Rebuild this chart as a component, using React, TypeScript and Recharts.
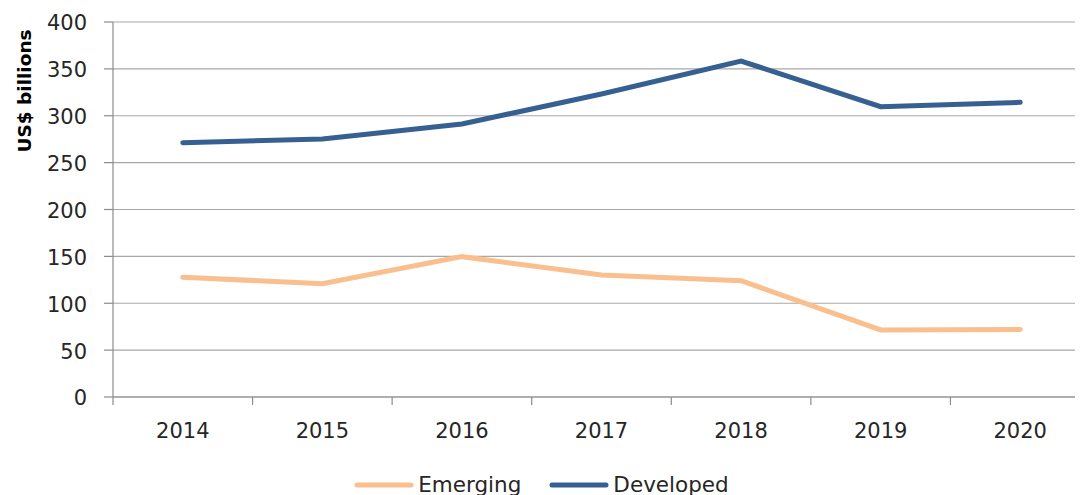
import React from 'react';
import { LineChart, Line, XAxis, YAxis, CartesianGrid, Legend } from 'recharts';

const years = ['2014', '2015', '2016', '2017', '2018', '2019', '2020'];
const emerging = [127.7, 120.9, 149.7, 130.1, 124.1, 71.5, 72];
const developed = [271.3, 275.2, 291.2, 323.2, 358.4, 309.7, 314.3];
const yTicks = [0, 50, 100, 150, 200, 250, 300, 350, 400];
const seriesOrder = ['Emerging', 'Developed'];

const data = years.map((y, i) => ({ year: y, Emerging: emerging[i], Developed: developed[i] }));

const CHART_W = 1100;
const CHART_H = 500;
const Y_W = 113;
const X_H = 30;
const LEGEND_H = 24;
const M = { top: 22, right: 10, left: 0, bottom: 103 - X_H - LEGEND_H };
const PLOT_W = CHART_W - Y_W - M.right;
const BAND = PLOT_W / years.length;
const FONT = '"DejaVu Sans", sans-serif';
const AXIS_COLOR = '#8c8c8c';
const GRID_COLOR = '#a8a8a8';
const TEXT_COLOR = '#262626';
const ORANGE = '#fabf8f';
const BLUE = '#376092';

const XTick = (props: any) => {
  const { x, y, payload } = props;
  return (
    <g>
      <line x1={x - BAND / 2} x2={x - BAND / 2} y1={y} y2={y + 8} stroke={AXIS_COLOR} strokeWidth={1.2} />
      <text x={x} y={y + 41} textAnchor="middle" fontFamily={FONT} fontSize={21} fill={TEXT_COLOR}>
        {payload.value}
      </text>
    </g>
  );
};

const YLabel = (props: any) => {
  const vb = props.viewBox || {};
  const cx = 24;
  const cy = (vb.y ?? 22) + 69;
  return (
    <text
      x={cx}
      y={cy}
      transform={`rotate(-90, ${cx}, ${cy})`}
      textAnchor="middle"
      dominantBaseline="central"
      fontFamily={FONT}
      fontWeight="bold"
      fontSize={18.5}
      fill="#000"
    >
      US$ billions
    </text>
  );
};

const LegendContent = (props: any) => {
  const items = [...(props.payload || [])].sort(
    (a: any, b: any) => seriesOrder.indexOf(a.value) - seriesOrder.indexOf(b.value)
  );
  return (
    <div style={{ display: 'flex', justifyContent: 'center', alignItems: 'center', width: 1083, height: LEGEND_H }}>
      {items.map((it: any, i: number) => (
        <div key={i} style={{ display: 'flex', alignItems: 'center', marginLeft: i === 0 ? 0 : 28 }}>
          <svg width={60} height={8} style={{ display: 'block' }}>
            <line x1={3} y1={4} x2={57} y2={4} stroke={it.color} strokeWidth={5} strokeLinecap="round" />
          </svg>
          <span style={{ fontFamily: FONT, fontSize: 21.5, color: TEXT_COLOR, marginLeft: 4, lineHeight: '24px' }}>
            {it.value}
          </span>
        </div>
      ))}
    </div>
  );
};

export default function App() {
  return (
    <div style={{ margin: '-8px 0 0 -8px', width: CHART_W, height: CHART_H, overflow: 'hidden' }}>
      <LineChart width={CHART_W} height={CHART_H} data={data} margin={M}>
        <CartesianGrid vertical={false} stroke={GRID_COLOR} strokeWidth={1.2} />
        <XAxis
          dataKey="year"
          scale="band"
          height={X_H}
          tickLine={false}
          tickSize={0}
          tickMargin={0}
          axisLine={{ stroke: AXIS_COLOR, strokeWidth: 1.2 }}
          tick={<XTick />}
          interval={0}
        />
        <YAxis
          domain={[0, 400]}
          ticks={yTicks}
          interval={0}
          tickSize={9}
          tickMargin={17}
          tickLine={{ stroke: AXIS_COLOR, strokeWidth: 1.2 }}
          axisLine={{ stroke: AXIS_COLOR, strokeWidth: 1.2 }}
          tick={{ fontFamily: FONT, fontSize: 21, fill: TEXT_COLOR, dy: 1 }}
          width={Y_W}
          label={<YLabel />}
        />
        <Legend
          content={<LegendContent />}
          wrapperStyle={{ position: 'absolute', top: 473, left: 0, width: 1083 }}
        />
        <Line
          type="linear"
          dataKey="Emerging"
          stroke={ORANGE}
          strokeWidth={5}
          dot={false}
          activeDot={false}
          strokeLinecap="round"
          isAnimationActive={false}
        />
        <Line
          type="linear"
          dataKey="Developed"
          stroke={BLUE}
          strokeWidth={5}
          dot={false}
          activeDot={false}
          strokeLinecap="round"
          isAnimationActive={false}
        />
      </LineChart>
    </div>
  );
}
